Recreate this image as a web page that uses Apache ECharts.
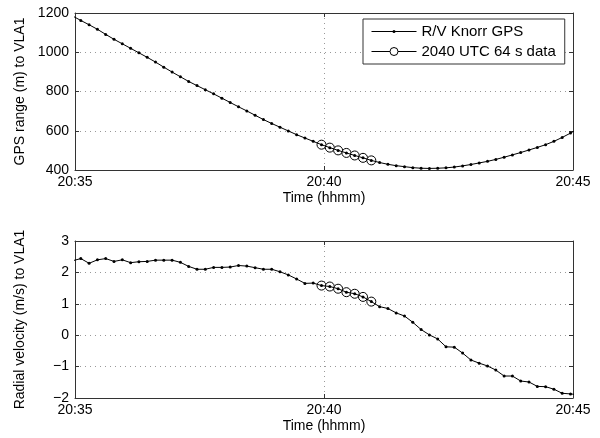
<!DOCTYPE html>
<html>
<head>
<meta charset="utf-8">
<script src="https://cdn.jsdelivr.net/npm/echarts@6/dist/echarts.min.js"></script>
<style>
  html, body { margin: 0; padding: 0; background: #fff; }
  #chart { width: 600px; height: 438px; }
</style>
</head>
<body>
<div id="chart"></div>
<script>
// seconds after 20:35:00 UTC
var timeSec = [-3, 7, 17, 27, 37, 47, 57, 67, 77, 87, 97, 107, 117, 127, 137, 147, 157, 167, 177, 187,
  197, 207, 217, 227, 237, 247, 257, 267, 277, 287, 297, 307, 317, 327, 337, 347, 357, 367, 377, 387,
  397, 407, 417, 427, 437, 447, 457, 467, 477, 487, 497, 507, 517, 527, 537, 547, 557, 567, 577, 587,
  597, 607];
// GPS range (m)
var rangeM = [1185, 1162, 1140, 1117, 1091, 1066, 1043, 1020, 997, 974, 950, 924, 899, 875, 851, 830,
  809, 788, 766, 744, 722, 701, 679, 657, 637, 618, 599, 580, 563, 546, 529, 514, 500, 487, 474, 462,
  449, 438, 429, 422, 417, 412, 409, 408, 409, 411, 415, 421, 428, 436, 444, 454, 465, 477, 489, 502,
  515, 529, 546, 566, 588, 612];
// radial velocity (m/s)
var velMs = [2.37, 2.44, 2.29, 2.40, 2.44, 2.35, 2.40, 2.31, 2.34, 2.35, 2.39, 2.39, 2.39, 2.32, 2.19,
  2.10, 2.10, 2.16, 2.16, 2.17, 2.22, 2.20, 2.15, 2.10, 2.10, 2.02, 1.92, 1.79, 1.65, 1.66, 1.58, 1.55,
  1.48, 1.37, 1.32, 1.22, 1.07, 0.91, 0.85, 0.71, 0.61, 0.41, 0.18, 0.01, -0.12, -0.37, -0.38, -0.57,
  -0.79, -0.89, -0.98, -1.11, -1.30, -1.30, -1.46, -1.49, -1.63, -1.64, -1.72, -1.85, -1.87, -1.90];
// 2040 UTC 64 s data window
var hiTime = [297, 307, 317, 327, 337, 347, 357];
var hiRange = [529, 514, 500, 487, 474, 462, 449];
var hiVel = [1.58, 1.55, 1.48, 1.37, 1.32, 1.22, 1.07];

var xTicks = [0, 300, 600];
var xTickLabels = ["20:35", "20:40", "20:45"];

var seriesNames = ["R/V Knorr GPS", "2040 UTC 64 s data"];

function pairs(xs, ys) {
  return xs.map(function (x, i) { return [x, ys[i]]; });
}

var FONT = "'Liberation Sans', Arial, Helvetica, sans-serif";
var AX = "#333";
var GRIDC = "#999";

function xAxisPair(gi) {
  var base = {
    type: "value", gridIndex: gi, min: 0, max: 600, interval: 300,
    axisLine: { onZero: false, lineStyle: { color: AX, width: 1 } },
    axisTick: { inside: true, length: 4, lineStyle: { color: AX } }
  };
  return [
    Object.assign({}, base, {
      position: "bottom",
      name: "Time (hhmm)", nameLocation: "middle", nameGap: 21,
      nameTextStyle: { color: "#000", fontSize: 14, fontFamily: FONT },
      axisLabel: {
        color: "#000", fontSize: 14, fontFamily: FONT, margin: 5,
        formatter: function (v) { return xTickLabels[xTicks.indexOf(v)]; }
      },
      splitLine: { show: true, lineStyle: { color: GRIDC, type: [1, 4], width: 1 } }
    }),
    Object.assign({}, base, {
      position: "top", axisLabel: { show: false }, splitLine: { show: false }
    })
  ];
}

function yAxisPair(gi, min, max, step, name) {
  var base = {
    type: "value", gridIndex: gi, min: min, max: max, interval: step,
    axisLine: { show: true, onZero: false, lineStyle: { color: AX, width: 1 } },
    axisTick: { show: true, inside: true, length: 4, lineStyle: { color: AX } }
  };
  return [
    Object.assign({}, base, {
      position: "left",
      name: name, nameLocation: "middle", nameGap: 48,
      nameTextStyle: { color: "#000", fontSize: 14, fontFamily: FONT },
      axisLabel: {
        color: "#000", fontSize: 14, fontFamily: FONT, margin: 6,
        formatter: function (v) { return String(v).replace("-", "\u2212"); }
      },
      splitLine: { show: true, lineStyle: { color: GRIDC, type: [1, 4], width: 1 } }
    }),
    Object.assign({}, base, {
      position: "right", axisLabel: { show: false }, splitLine: { show: false }
    })
  ];
}

function mainSeries(name, xi, yi, data) {
  return {
    name: name, type: "line", xAxisIndex: xi, yAxisIndex: yi, data: data,
    symbol: "circle", symbolSize: 3, showSymbol: true, clip: true,
    lineStyle: { color: "#000", width: 1 },
    itemStyle: { color: "#000" },
    emphasis: { disabled: true },
    z: 3, animation: false
  };
}

function hiSeries(name, xi, yi, data) {
  return {
    name: name, type: "line", xAxisIndex: xi, yAxisIndex: yi, data: data,
    symbol: "circle", symbolSize: 9, showSymbol: true,
    lineStyle: { color: "#000", width: 1 },
    itemStyle: { color: "#fff", borderColor: "#000", borderWidth: 1 },
    emphasis: { disabled: true },
    z: 2, animation: false
  };
}

var chart = echarts.init(document.getElementById("chart"));
var option = {
  backgroundColor: "#fff",
  animation: false,
  grid: [
    { left: 75, top: 13, width: 498, height: 157 },
    { left: 75, top: 241, width: 498, height: 157 }
  ],
  xAxis: xAxisPair(0).concat(xAxisPair(1)),
  yAxis: yAxisPair(0, 400, 1200, 200, "GPS range (m) to VLA1")
    .concat(yAxisPair(1, -2, 3, 1, "Radial velocity (m/s) to VLA1")),
  legend: {
    left: 363, top: 19,
    orient: "vertical",
    backgroundColor: "#fff",
    borderColor: AX, borderWidth: 1, borderRadius: 0,
    padding: [5, 9, 5, 8],
    itemWidth: 45, itemHeight: 10, itemGap: 5,
    selectedMode: false,
    lineStyle: { width: 1, color: "#000" },
    itemStyle: { borderWidth: 1 },
    textStyle: { color: "#000", fontSize: 15, fontFamily: FONT },
    data: [
      {
        name: seriesNames[0],
        icon: "path://M0,4L45,4L45,5L0,5Z M21,4.5A1.5,1.5 0 1 1 24,4.5A1.5,1.5 0 1 1 21,4.5Z",
        itemStyle: { color: "#000", borderWidth: 0 }
      },
      {
        name: seriesNames[1],
        itemStyle: { color: "#fff", borderColor: "#000", borderWidth: 1 },
        lineStyle: { width: 1, color: "#000" }
      }
    ]
  },
  series: [
    mainSeries(seriesNames[0], 0, 0, pairs(timeSec, rangeM)),
    hiSeries(seriesNames[1], 0, 0, pairs(hiTime, hiRange)),
    mainSeries("vel", 2, 2, pairs(timeSec, velMs)),
    hiSeries("velHi", 2, 2, pairs(hiTime, hiVel))
  ]
};
chart.setOption(option);
window.addEventListener("resize", chart.resize);
</script>
</body>
</html>
